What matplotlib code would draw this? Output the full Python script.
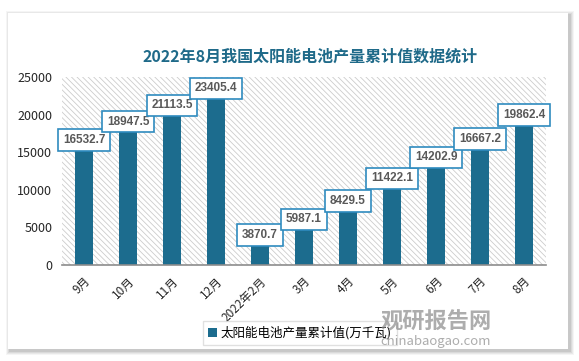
import matplotlib.pyplot as plt
from matplotlib.patches import Rectangle

plt.rcParams['font.family'] = ['Noto Sans CJK SC', 'DejaVu Sans']
plt.rcParams['hatch.color'] = '#cccccc'
plt.rcParams['hatch.linewidth'] = 0.6

# data
months = ['9月', '10月', '11月', '12月', '2022年2月', '3月', '4月', '5月', '6月', '7月', '8月']
values = [16532.7, 18947.5, 21113.5, 23405.4, 3870.7, 5987.1, 8429.5, 11422.1, 14202.9, 16667.2, 19862.4]
yticks = [0, 5000, 10000, 15000, 20000, 25000]

W, H = 579, 361
fig = plt.figure(figsize=(W / 100, H / 100), dpi=100)
fig.patch.set_facecolor('white')

# card with soft shadow
for i, a in enumerate([0.04, 0.05, 0.06, 0.08]):
    pad = 4 - i
    fig.patches.append(Rectangle(((8 - pad + 2) / W, 1 - (349 + pad + 2) / H),
                                 (560 + 2 * pad) / W, (336 + 2 * pad) / H,
                                 transform=fig.transFigure, facecolor='black',
                                 alpha=a, edgecolor='none', zorder=0))
fig.patches.append(Rectangle((8 / W, 1 - 349 / H), 560 / W, 336 / H,
                             transform=fig.transFigure, facecolor='white',
                             edgecolor='none', zorder=1))

ax = fig.add_axes([62 / W, 1 - 265 / H, 484 / W, 188 / H])
ax.set_zorder(2)
ax.set_facecolor('white')
ax.add_patch(Rectangle((0, 0), 1, 1, transform=ax.transAxes, facecolor='white',
                       hatch='\\' * 6, edgecolor='#cccccc', linewidth=0, zorder=0))

x = list(range(len(months)))
bars = ax.bar(x, values, width=0.43, color='#1c6c8e', zorder=2)

for xi, v in zip(x, values):
    ax.text(xi, v + 100, f'{v:.1f}', ha='center', va='center', fontsize=8.5,
            fontweight='bold', color='#595959', zorder=5, family='Liberation Sans',
            bbox=dict(boxstyle='square,pad=0.4', facecolor='white',
                      edgecolor='#2f8bbf', linewidth=1.2))

ax.set_xlim(-0.5, len(months) - 0.5)
ax.set_ylim(0, 25000)
ax.set_yticks(yticks)
ax.set_yticklabels([str(t) for t in yticks], fontsize=9, color='#262626')
ax.set_xticks(x)
ax.set_xticklabels(months, rotation=45, ha='right', rotation_mode='anchor',
                   fontsize=8.5, color='#262626')
ax.tick_params(length=0, pad=7)
for s in ['top', 'right', 'left']:
    ax.spines[s].set_visible(False)
ax.spines['bottom'].set_color('#8c8c8c')
ax.spines['bottom'].set_linewidth(1.2)

fig.text(310 / W, 1 - 57 / H, '2022年8月我国太阳能电池产量累计值数据统计',
         ha='center', va='center', fontsize=11.5, fontweight='bold', color='#1f6a89')

leg = fig.legend(handles=[bars], labels=['太阳能电池产量累计值(万千瓦)'],
                 loc='center', bbox_to_anchor=(300 / W, 1 - 333 / H),
                 fontsize=9, frameon=True, fancybox=False, edgecolor='#d9d9d9',
                 handlelength=0.7, handleheight=0.7, handletextpad=0.3,
                 borderpad=0.4)
leg.get_frame().set_linewidth(1.0)
leg.set_zorder(3)

# watermark
fig.text(436 / W, 1 - 322 / H, '观研报告网', ha='center', va='center', fontsize=16,
         fontweight='bold', color='#8a8a8a', alpha=0.7, zorder=6)
fig.text(436 / W, 1 - 342 / H, 'chinabaogao.com', ha='center', va='center', fontsize=9.5,
         color='#8a8a8a', alpha=0.7, zorder=6)

fig.savefig('out.png', dpi=100)
